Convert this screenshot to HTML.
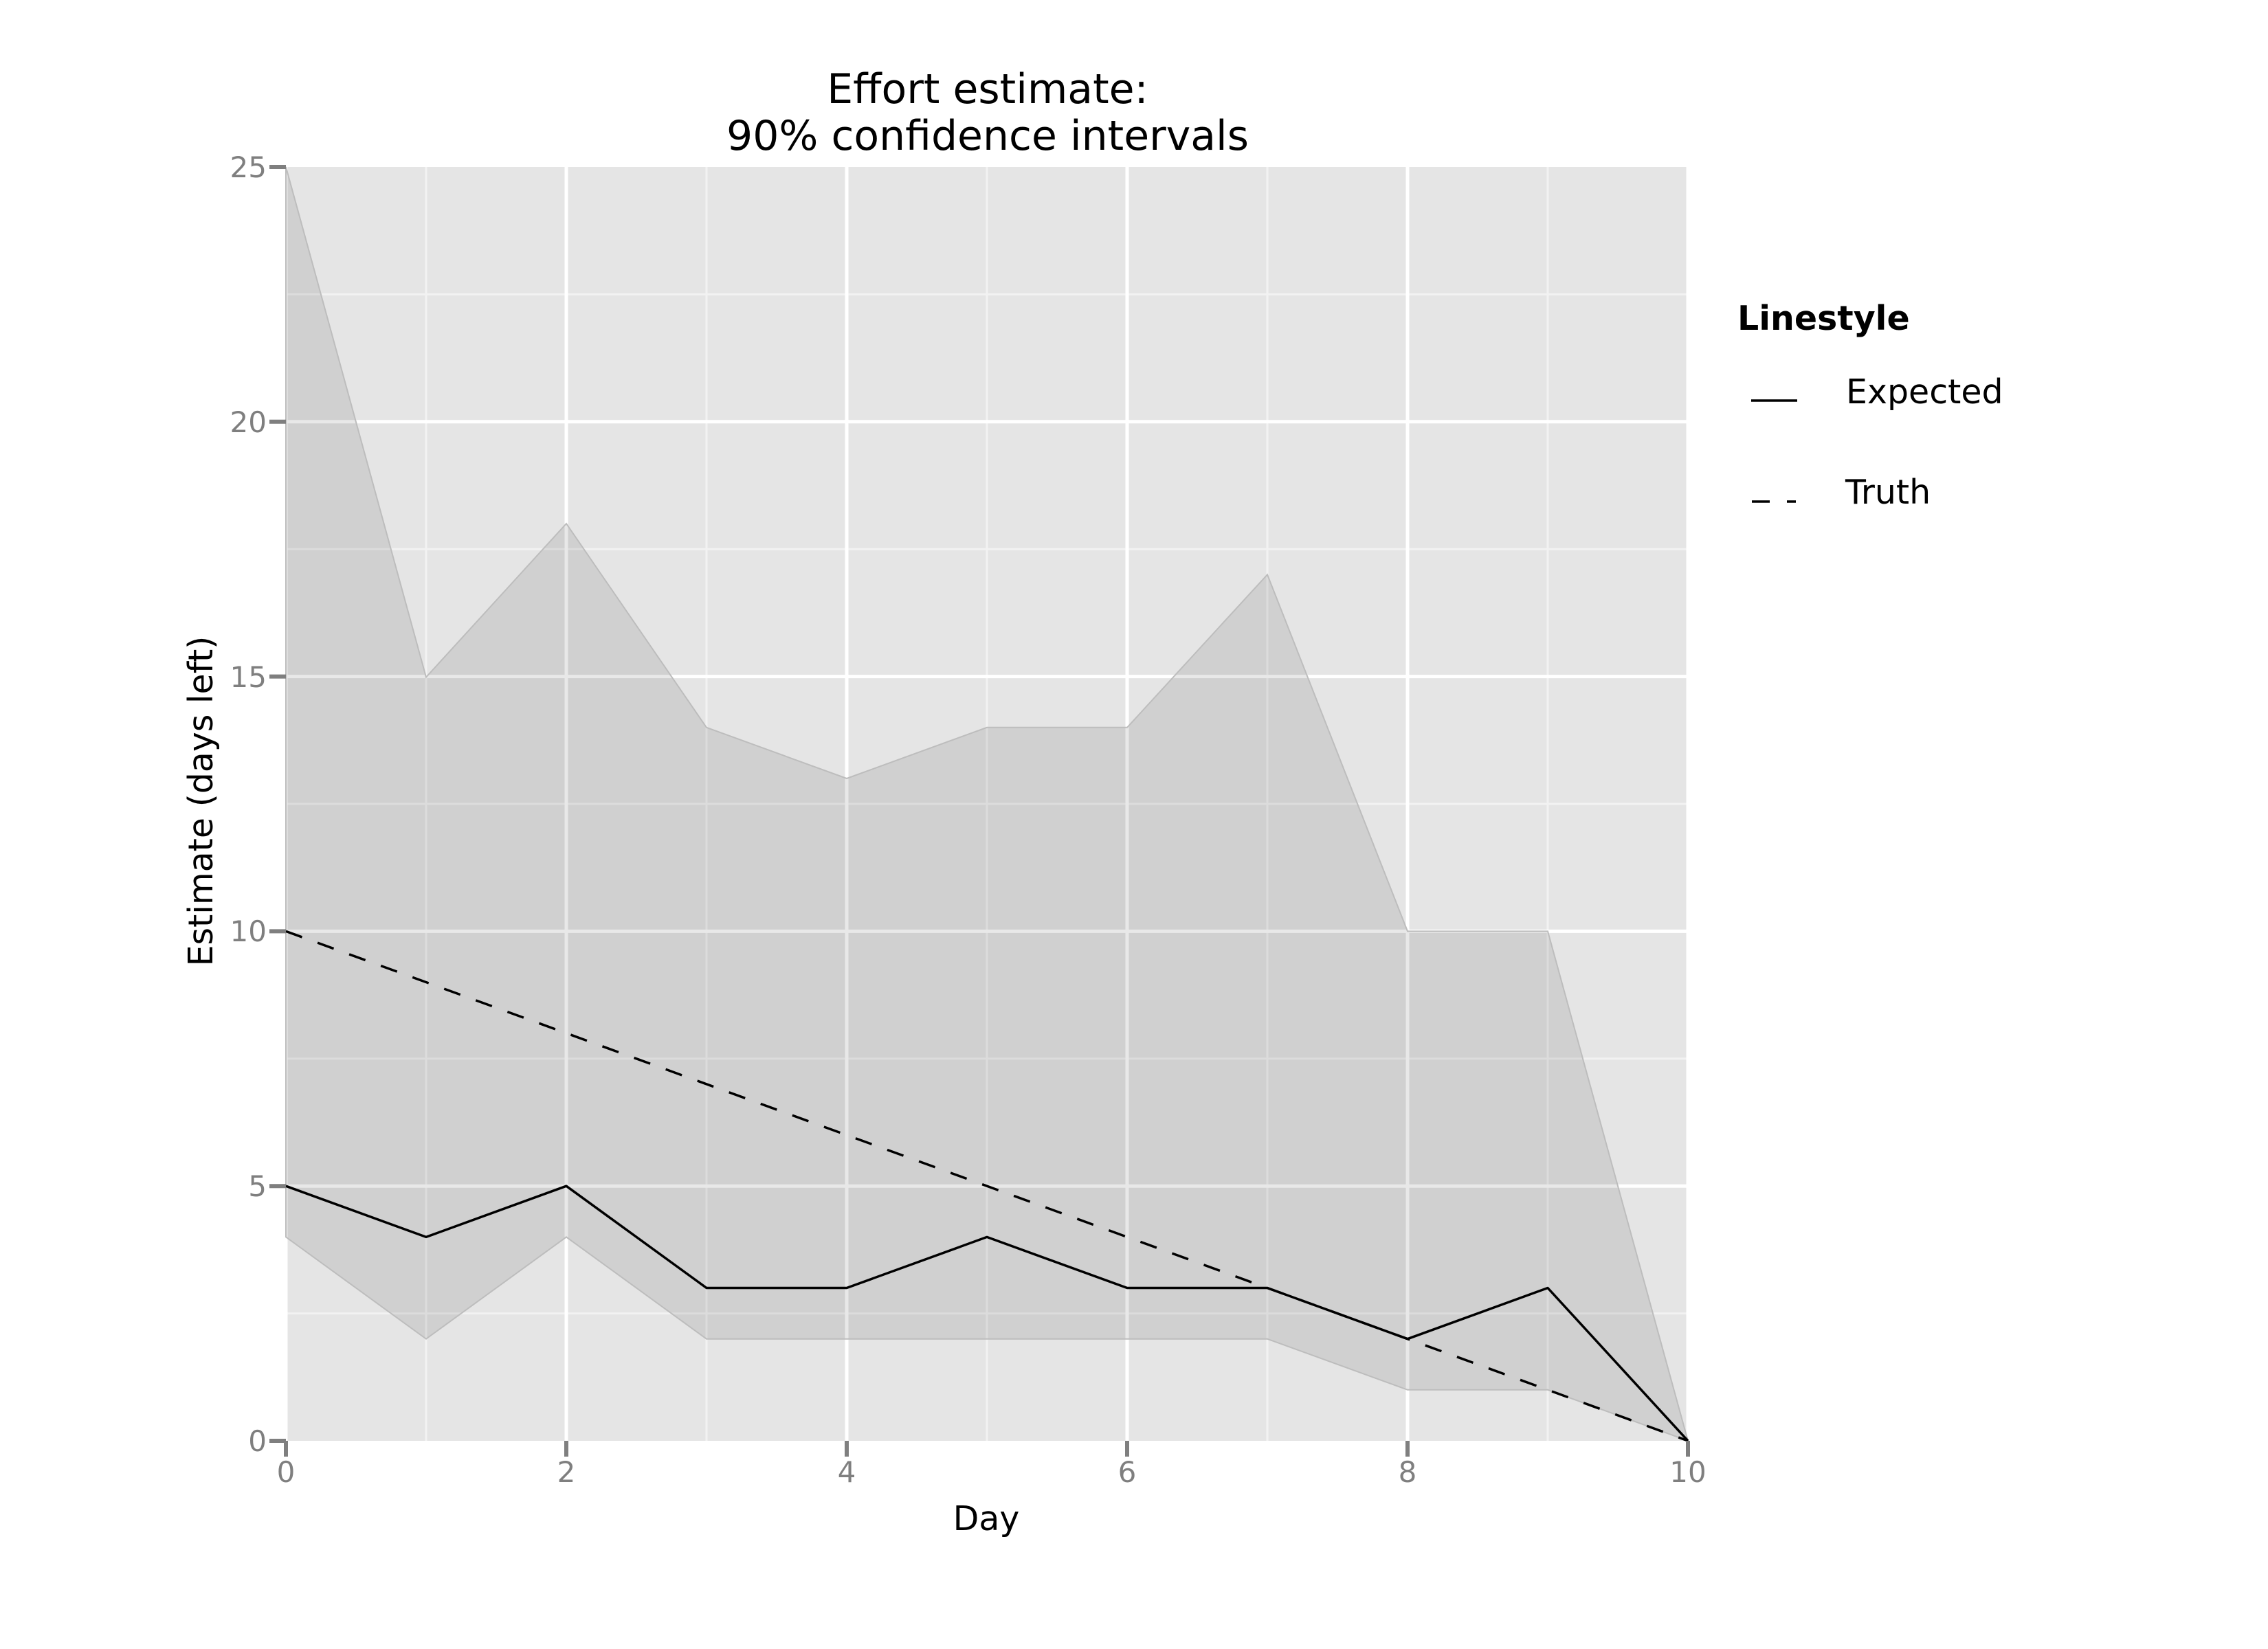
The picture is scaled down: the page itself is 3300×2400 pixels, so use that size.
<!DOCTYPE html>
<html><head><meta charset="utf-8"><style>html,body{margin:0;padding:0;background:#fff}svg{display:block}</style></head>
<body>
<svg width="3300" height="2400" viewBox="0 0 3300 2400" xmlns="http://www.w3.org/2000/svg" font-family="'DejaVu Sans','Liberation Sans',sans-serif">
<rect x="416" y="243" width="2040" height="1854" fill="#e5e5e5"/>
<g stroke="#f2f2f2" stroke-width="3">
<line x1="416" x2="2456" y1="1911.6" y2="1911.6"/><line x1="416" x2="2456" y1="1540.8" y2="1540.8"/>
<line x1="416" x2="2456" y1="1170" y2="1170"/><line x1="416" x2="2456" y1="799.2" y2="799.2"/>
<line x1="416" x2="2456" y1="428.4" y2="428.4"/>
<line y1="243" y2="2097" x1="620" x2="620"/><line y1="243" y2="2097" x1="1028" x2="1028"/>
<line y1="243" y2="2097" x1="1436" x2="1436"/><line y1="243" y2="2097" x1="1844" x2="1844"/>
<line y1="243" y2="2097" x1="2252" x2="2252"/>
</g>
<g stroke="#ffffff" stroke-width="5">
<line x1="416" x2="2456" y1="1726.2" y2="1726.2"/><line x1="416" x2="2456" y1="1355.4" y2="1355.4"/>
<line x1="416" x2="2456" y1="984.6" y2="984.6"/><line x1="416" x2="2456" y1="613.8" y2="613.8"/>
<line y1="243" y2="2097" x1="416" x2="416"/><line y1="243" y2="2097" x1="824" x2="824"/>
<line y1="243" y2="2097" x1="1232" x2="1232"/><line y1="243" y2="2097" x1="1640" x2="1640"/>
<line y1="243" y2="2097" x1="2048" x2="2048"/><line y1="243" y2="2097" x1="2456" x2="2456"/>
</g>
<polygon fill="#000" fill-opacity="0.09" stroke="#bdbdbd" stroke-width="2"
points="416,243 620,985.6 824,762.1 1028,1058.8 1232,1133 1436,1058.8 1640,1058.8 1844,836.3 2048,1355.4 2252,1355.4 2456,2097 2252,2022.8 2048,2022.8 1844,1948.7 1640,1948.7 1436,1948.7 1232,1948.7 1028,1948.7 824,1800.4 620,1948.7 416,1800.4"/>
<line x1="416" y1="1355.4" x2="2456" y2="2097" stroke="#000" stroke-width="3.5" stroke-dasharray="25,24"/>
<polyline fill="none" stroke="#000" stroke-width="3.5" stroke-linejoin="round"
points="416,1726.2 620,1800.4 824,1726.2 1028,1874.5 1232,1874.5 1436,1800.4 1640,1874.5 1844,1874.5 2048,1948.7 2252,1874.5 2456,2097"/>
<g stroke="#7f7f7f" stroke-width="6">
<line x1="392" x2="416" y1="2097" y2="2097"/><line x1="392" x2="416" y1="1726.2" y2="1726.2"/>
<line x1="392" x2="416" y1="1355.4" y2="1355.4"/><line x1="392" x2="416" y1="984.6" y2="984.6"/>
<line x1="392" x2="416" y1="613.8" y2="613.8"/><line x1="392" x2="416" y1="243" y2="243"/>
<line x1="416" x2="416" y1="2097" y2="2120"/><line x1="824" x2="824" y1="2097" y2="2120"/>
<line x1="1232" x2="1232" y1="2097" y2="2120"/><line x1="1640" x2="1640" y1="2097" y2="2120"/>
<line x1="2048" x2="2048" y1="2097" y2="2120"/><line x1="2456" x2="2456" y1="2097" y2="2120"/>
</g>
<g fill="#7f7f7f" font-size="42" text-anchor="end">
<text x="388" y="2112">0</text><text x="388" y="1741">5</text><text x="388" y="1370">10</text>
<text x="388" y="1000">15</text><text x="388" y="629">20</text><text x="388" y="258">25</text>
</g>
<g fill="#7f7f7f" font-size="42" text-anchor="middle">
<text x="416" y="2157">0</text><text x="824" y="2157">2</text><text x="1232" y="2157">4</text>
<text x="1640" y="2157">6</text><text x="2048" y="2157">8</text><text x="2456" y="2157">10</text>
</g>
<g fill="#000" text-anchor="middle">
<text x="1437" y="150" font-size="60">Effort estimate:</text>
<text x="1437" y="218" font-size="60">90% confidence intervals</text>
<text x="1435" y="2227" font-size="49">Day</text>
<text transform="translate(309,1166) rotate(-90)" font-size="49">Estimate (days left)</text>
</g>
<text x="2528" y="480" font-size="49" font-weight="bold">Linestyle</text>
<line x1="2548" x2="2615" y1="583" y2="583" stroke="#000" stroke-width="3.5"/>
<text x="2686" y="587" font-size="49">Expected</text>
<line x1="2549" x2="2575" y1="730" y2="730" stroke="#000" stroke-width="3.5"/>
<line x1="2600" x2="2613" y1="730" y2="730" stroke="#000" stroke-width="3.5"/>
<text x="2685" y="733" font-size="49">Truth</text>
</svg>
</body></html>
